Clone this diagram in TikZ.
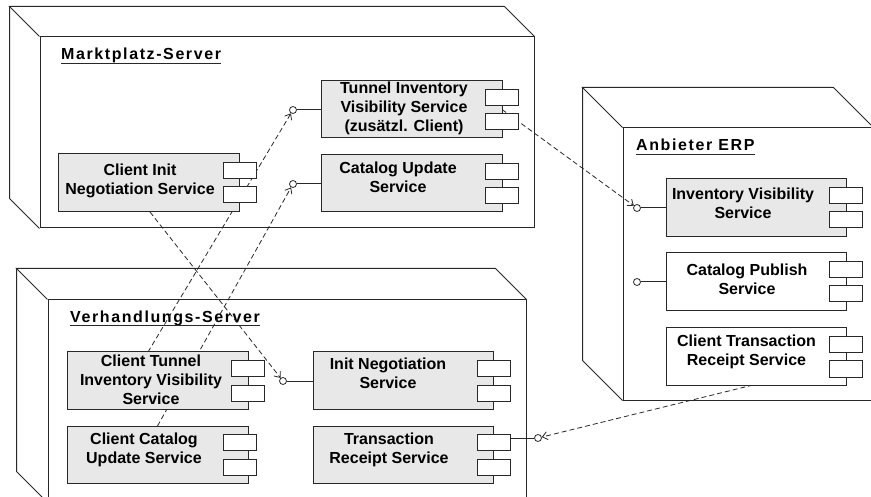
\documentclass[tikz,border=0pt]{standalone}
\usepackage{fontspec}
\setmainfont{Liberation Sans}
\usetikzlibrary{arrows.meta,calc}

\definecolor{ink}{RGB}{40,40,40}
\definecolor{compfill}{RGB}{232,232,232}

\tikzset{
  frame/.style={draw=ink, line width=1pt},
  comp/.style={rectangle, draw=ink, line width=1pt, inner sep=0pt},
  port/.style={rectangle, draw=ink, fill=white, line width=1pt, inner sep=0pt,
               minimum width=33, minimum height=16},
  lolly/.style={circle, draw=ink, fill=white, line width=0.8pt, inner sep=0pt, minimum size=7},
  ctext/.style={font=\bfseries\fontsize{16}{19}\selectfont, align=center, inner sep=0pt, anchor=north},
  title/.style={font=\bfseries\fontsize{16}{19}\selectfont\addfontfeatures{LetterSpace=10},
                inner sep=0pt, anchor=base west},
  dep/.style={draw=ink, line width=0.8pt, dash pattern=on 5pt off 3pt,
              -{Straight Barb[length=5pt,width=8pt,line width=0.8pt]}},
}

% component: name, left, top, right, bottom, left of the two ports, fill
\newcommand\component[7]{%
  \node[comp, fill=#7, minimum width={#4-#2}, minimum height={#5-#3}]
       (#1) at ({(#2+#4)/2},{(#3+#5)/2}) {};
  \node[port] (#1a) at ({#6+16.5},{#3+16.75}) {};
  \node[port] (#1b) at ({#6+16.5},{#3+41}) {};
}

% deployment node drawn as a box: name, left, top, right, bottom, depth
\newcommand\deploynode[6]{%
  \node[frame, rectangle, inner sep=0pt, minimum width={#4-#2}, minimum height={#5-#3}]
       (#1) at ({(#2+#4)/2},{(#3+#5)/2}) {};
  \draw[frame] (#1.north west) -- ++(-#6,-#6) coordinate (#1tl)
               -- ($(#1.north east)+(-#6,-#6)$) -- (#1.north east);
  \draw[frame] (#1tl) -- ($(#1.south west)+(-#6,-#6)$) -- (#1.south west);
}

\newcommand\ulabel[3]{% name, position, text
  \node[title] (#1) at (#2) {#3};
  \draw[ink, line width=1pt] ([yshift=-3.5]#1.base west) -- ([yshift=-3.5]#1.base east);
}

\begin{document}
\begin{tikzpicture}[x=1pt,y=-1pt]
\useasboundingbox (0,0) rectangle (871,497);

% the three deployment nodes
\deploynode{mp}{40}{37}{534}{228}{30}
\deploynode{vs}{48}{300}{526}{502}{31}
\deploynode{erp}{623}{128}{873}{400}{40}

\ulabel{mptitle}{61,60}{Marktplatz-Server}
\ulabel{vstitle}{70,322.5}{Verhandlungs-Server}
\ulabel{erptitle}{636,151}{Anbieter ERP}

% provided interfaces
\node[lolly] (tivL) at (293,110) {};
\node[lolly] (cusL) at (293,184) {};
\node[lolly] (ivsL) at (637,208) {};
\node[lolly] (cpsL) at (637,282) {};
\node[lolly] (insL) at (283,381) {};
\node[lolly] (trsL) at (538,438) {};

% dependencies (drawn beneath the components)
\coordinate (tiveast) at (502,109.5);
\draw[dep] (tiveast) -- (ivsL);
\draw[dep] (150,212) coordinate (cinsS) -- (insL);
\draw[dep] (148,352) coordinate (ctivsN) -- (tivL);
\draw[dep] (157.5,426) coordinate (ccusN) -- (cusL);
\draw[dep] (753,385) coordinate (ctrsS) -- (trsL);

% components
\component{tiv}{321}{81}{502}{138}{485}{compfill}
\component{cus}{321}{155}{502}{212}{485}{compfill}
\component{cins}{58}{154}{239}{212}{223}{compfill}
\component{ivs}{666}{179}{846}{237}{829}{compfill}
\component{cps}{666}{253}{846}{311}{829}{white}
\component{ctrs}{666}{328}{846}{385}{829}{white}
\component{ctivs}{67}{352}{248}{409}{231}{compfill}
\component{ccus}{67}{426}{248}{483}{223}{compfill}
\component{ins}{313}{352}{493}{409}{477}{compfill}
\component{trs}{313}{426}{493}{483}{477}{compfill}

% interface stems
\draw[ink, line width=1pt] (tivL) -- (tivL -| tiv.west);
\draw[ink, line width=1pt] (cusL) -- (cusL -| cus.west);
\draw[ink, line width=1pt] (ivsL) -- (ivsL -| ivs.west);
\draw[ink, line width=1pt] (cpsL) -- (cpsL -| cps.west);
\draw[ink, line width=1pt] (insL) -- (insL -| ins.west);
\draw[ink, line width=1pt] (trsL) -- (trsL -| trsa.east);

% component names
\node[ctext] (tivt)   at (404,82.2)  {Tunnel Inventory\\Visibility Service\\(zusätzl. Client)};
\node[ctext] (cust)   at (398,162.2) {Catalog Update\\Service};
\node[ctext] (cinst)  at (140,164.2) {Client Init\\Negotiation Service};
\node[ctext] (ivst)   at (743,188.2) {Inventory Visibility\\Service};
\node[ctext] (cpst)   at (747,264.2) {Catalog Publish\\Service};
\node[ctext] (ctrst)  at (746.5,335.2) {Client Transaction\\Receipt Service};
\node[ctext] (ctivst) at (151,355.2) {Client Tunnel\\Inventory Visibility\\Service};
\node[ctext] (ccust)  at (144,433.2) {Client Catalog\\Update Service};
\node[ctext] (inst)   at (388,358.2) {Init Negotiation\\Service};
\node[ctext] (trst)   at (389,433.2) {Transaction\\Receipt Service};
\end{tikzpicture}
\end{document}
